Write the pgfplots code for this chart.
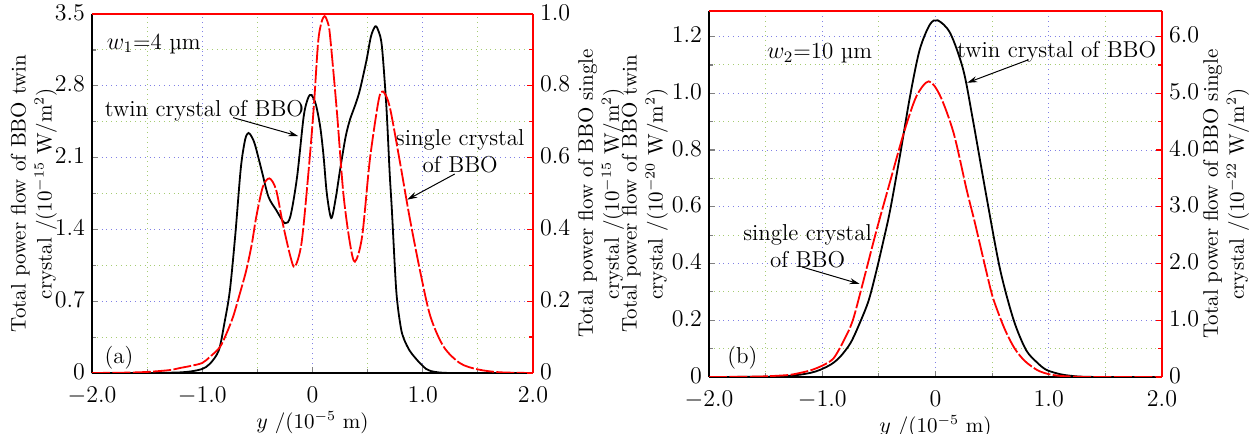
\documentclass[border=0pt]{standalone}
\usepackage{pgfplots}
\pgfplotsset{compat=1.18}
\usetikzlibrary{arrows.meta}

\definecolor{gridmaj}{rgb}{0.5,0.5,0.9}
\definecolor{gridmin}{rgb}{0.65,0.8,0.45}

\pgfplotsset{
  base/.style={
    scale only axis, anchor=south west,
    xmin=-2, xmax=2,
    tick align=inside, major tick length=3pt, minor tick length=2pt,
    axis line style={line width=0.8pt},
    tick style={line width=0.6pt},
    font=\fontsize{11.5}{13.5}\selectfont,
    tick label style={font=\fontsize{11.5}{13.5}\selectfont},
    label style={font=\fontsize{10.5}{13}\selectfont},
  },
  leftax/.style={base,
    axis x line*=bottom, axis y line*=left,
    xtick={-2,-1,0,1,2},
    xticklabels={$-2.0$,$-1.0$,$0$,$1.0$,$2.0$},
    minor xtick={-1.5,-0.5,0.5,1.5},
    xticklabel style={yshift=-3.5pt},
    yticklabel style={yshift=0.8pt},
    grid=both,
    major grid style={dotted, gridmaj, line width=0.45pt},
    minor grid style={dotted, gridmin, line width=0.45pt},
    xlabel={$y$ /(10$^{-5}$ m)},
    xlabel style={at={(axis description cs:0.5,0)}, anchor=north, yshift=-15.5pt},
  },
  rightax/.style={base,
    axis x line*=top, axis y line*=right,
    xtick=\empty, minor xtick=\empty,
    axis line style={red, line width=0.8pt},
    tick style={red, line width=0.6pt},
    yticklabel style={black, yshift=0.8pt},
  },
  ylab/.style={ylabel style={align=center,
      at={([xshift=-#1]axis description cs:0,0.5)}, anchor=south}},
  ylabr/.style={ylabel style={align=center,
      at={([xshift=#1]axis description cs:1,0.5)}, anchor=north}},
  twin/.style={black, line width=0.9pt, smooth},
  single/.style={red, line width=0.9pt, smooth, dash pattern=on 9pt off 1.2pt},
}

\begin{document}
\begin{tikzpicture}
\path[use as bounding box] (0,0) rectangle (627.5pt,217pt);

% ---------- panel (a) ----------
\begin{axis}[leftax, ylab=14pt, at={(46pt,30.5pt)}, width=220.5pt, height=179.5pt,
  ymin=0, ymax=3.5,
  ytick={0,0.7,1.4,2.1,2.8,3.5},
  yticklabels={$0$,$0.7$,$1.4$,$2.1$,$2.8$,$3.5$},
  minor ytick={0.35,1.05,1.75,2.45,3.15},
  ylabel={Total power flow of BBO twin\\crystal /(10$^{-15}$ W/m$^2$)},
]
\addplot[twin] coordinates {
(-2.0,0) (-1.5,0) (-1.3,0.003) (-1.2,0.006) (-1.1,0.016) (-1.0,0.04)
(-0.93,0.09) (-0.85,0.22) (-0.80,0.48) (-0.75,0.8) (-0.70,1.35)
(-0.65,2.0) (-0.61,2.28) (-0.58,2.34) (-0.55,2.3) (-0.52,2.22)
(-0.46,1.97) (-0.40,1.72) (-0.33,1.59) (-0.25,1.46) (-0.20,1.53)
(-0.14,1.91) (-0.08,2.5) (-0.04,2.68) (-0.01,2.71) (0.03,2.62)
(0.07,2.4) (0.10,2.12) (0.13,1.75) (0.17,1.51) (0.21,1.7)
(0.25,1.98) (0.30,2.3) (0.34,2.47) (0.39,2.62) (0.43,2.76)
(0.49,3.05) (0.53,3.28) (0.57,3.38) (0.60,3.33) (0.63,3.18)
(0.67,2.6) (0.70,1.95) (0.72,1.59) (0.76,0.8) (0.80,0.45)
(0.83,0.33) (0.88,0.22) (0.93,0.15) (0.98,0.09) (1.03,0.04)
(1.07,0.02) (1.15,0.005) (1.3,0) (2.0,0)
};
\node[anchor=west] at (axis cs:-1.93,3.21) {$w_1$=4 µm};
\node at (axis cs:-0.98,2.56) {twin crystal of BBO};
\draw[-{Stealth[length=5pt,width=3pt]}, line width=0.5pt] (axis cs:-0.72,2.49) -- (axis cs:-0.13,2.31);
\node[align=center] at (axis cs:1.34,2.16) {single crystal\\of BBO};
\draw[-{Stealth[length=5pt,width=3pt]}, line width=0.5pt] (axis cs:1.29,1.94) -- (axis cs:0.86,1.69);
\node[anchor=west] at (axis cs:-1.95,0.15) {(a)};
\end{axis}

\begin{axis}[rightax, ylabr=19pt, at={(46pt,30.5pt)}, width=220.5pt, height=179.5pt,
  ymin=0, ymax=1.0,
  ytick={0,0.2,0.4,0.6,0.8,1.0},
  yticklabels={$0$,$0.2$,$0.4$,$0.6$,$0.8$,$1.0$},
  minor ytick={0.1,0.3,0.5,0.7,0.9},
  ylabel={Total power flow of BBO single\\crystal /(10$^{-15}$ W/m$^2$)},
]
\addplot[single] coordinates {
(-2.0,0) (-1.7,0.001) (-1.5,0.003) (-1.3,0.008) (-1.2,0.014) (-1.1,0.02)
(-1.0,0.028) (-0.93,0.045) (-0.84,0.072) (-0.78,0.11) (-0.72,0.157)
(-0.66,0.22) (-0.60,0.287) (-0.55,0.36) (-0.51,0.435) (-0.45,0.519)
(-0.39,0.542) (-0.33,0.51) (-0.27,0.417) (-0.20,0.324) (-0.16,0.296)
(-0.10,0.361) (-0.04,0.547) (0.01,0.733) (0.05,0.918) (0.08,0.975)
(0.11,0.994) (0.14,0.975) (0.16,0.937) (0.22,0.733) (0.28,0.50)
(0.34,0.361) (0.385,0.31) (0.45,0.38) (0.52,0.593) (0.60,0.76)
(0.64,0.784) (0.70,0.742) (0.79,0.593) (0.88,0.435) (0.98,0.278)
(1.07,0.157) (1.19,0.073) (1.34,0.027) (1.5,0.01) (1.7,0.002) (2.0,0)
};
\end{axis}

% ---------- panel (b) ----------
\begin{axis}[leftax, ylab=17pt, at={(354.5pt,28.5pt)}, width=226.5pt, height=183pt,
  ymin=0, ymax=1.29,
  ytick={0,0.2,0.4,0.6,0.8,1.0,1.2},
  yticklabels={$0$,$0.2$,$0.4$,$0.6$,$0.8$,$1.0$,$1.2$},
  minor ytick={0.1,0.3,0.5,0.7,0.9,1.1},
  ylabel={Total power flow of BBO twin\\crystal /(10$^{-20}$ W/m$^2$)},
]
\addplot[twin] coordinates {
(-2.0,0) (-1.5,0.001) (-1.3,0.004) (-1.2,0.008) (-1.1,0.015)
(-1.02,0.025) (-0.92,0.045) (-0.84,0.072) (-0.75,0.12) (-0.67,0.189)
(-0.59,0.27) (-0.52,0.377) (-0.46,0.48) (-0.40,0.589) (-0.31,0.789)
(-0.225,0.989) (-0.14,1.153) (-0.05,1.242) (0.02,1.257) (0.13,1.212)
(0.245,1.083) (0.33,0.907) (0.45,0.636) (0.57,0.38) (0.69,0.201)
(0.80,0.095) (0.90,0.05) (0.98,0.025) (1.1,0.01) (1.2,0.004)
(1.3,0.001) (1.5,0) (2.0,0)
};
\node[anchor=west] at (axis cs:-1.55,1.14) {$w_2$=10 µm};
\node at (axis cs:1.07,1.146) {twin crystal of BBO};
\draw[-{Stealth[length=5pt,width=3pt]}, line width=0.5pt] (axis cs:0.82,1.118) -- (axis cs:0.28,1.037);
\node[align=center] at (axis cs:-1.13,0.462) {single crystal\\of BBO};
\draw[-{Stealth[length=5pt,width=3pt]}, line width=0.5pt] (axis cs:-1.18,0.388) -- (axis cs:-0.67,0.328);
\node[anchor=west] at (axis cs:-1.9,0.067) {(b)};
\end{axis}

\begin{axis}[rightax, ylabr=17pt, at={(354.5pt,28.5pt)}, width=226.5pt, height=183pt,
  ymin=0, ymax=6.45,
  ytick={0,1,2,3,4,5,6},
  yticklabels={$0$,$1.0$,$2.0$,$3.0$,$4.0$,$5.0$,$6.0$},
  minor ytick={0.5,1.5,2.5,3.5,4.5,5.5},
  ylabel={Total power flow of BBO single\\crystal /(10$^{-22}$ W/m$^2$)},
]
\addplot[single] coordinates {
(-2.0,0) (-1.7,0.004) (-1.5,0.012) (-1.3,0.035) (-1.2,0.07) (-1.1,0.12)
(-1.0,0.2) (-0.9,0.33) (-0.8,0.68) (-0.73,1.0) (-0.65,1.59)
(-0.52,2.59) (-0.40,3.45) (-0.28,4.3) (-0.17,4.94) (-0.06,5.21)
(0.04,4.96) (0.16,4.3) (0.275,3.3) (0.35,2.7) (0.45,1.85)
(0.51,1.38) (0.61,0.85) (0.70,0.5) (0.79,0.28) (0.9,0.12)
(1.0,0.05) (1.1,0.02) (1.25,0.005) (1.4,0) (2.0,0)
};
\end{axis}
\end{tikzpicture}
\end{document}
